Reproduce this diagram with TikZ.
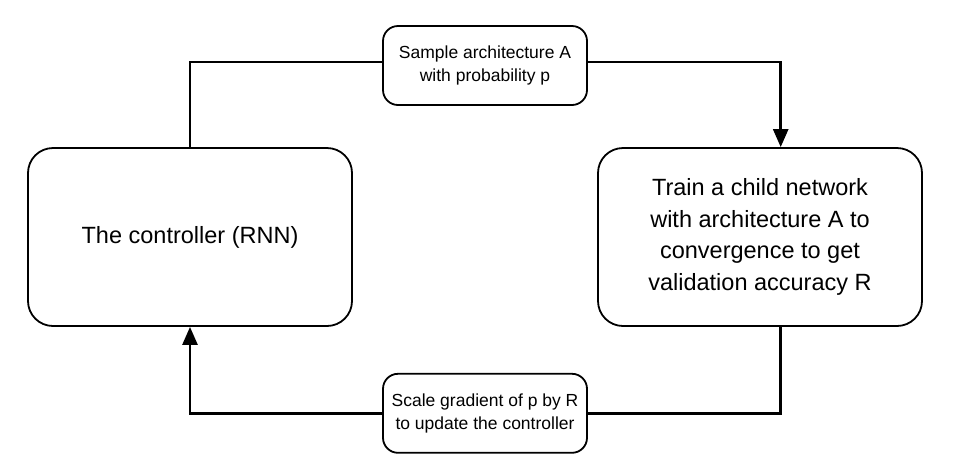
\documentclass[tikz,border=0pt]{standalone}
\usepackage{fontspec}
\setmainfont{Liberation Sans}
\usetikzlibrary{arrows.meta}
\begin{document}
\begin{tikzpicture}[x=1pt,y=-1pt,
  bigbox/.style={draw=black, line width=1.8pt, rounded corners=25pt, align=center,
    minimum width=324pt, minimum height=178pt, inner sep=0pt,
    font=\fontsize{23.5}{31.6}\selectfont},
  labelbox/.style={draw=black, line width=1.8pt, rounded corners=15pt, align=center,
    minimum width=204pt, minimum height=79pt, inner sep=0pt, fill=white,
    font=\fontsize{17.5}{23.4}\selectfont},
  conn/.style={line width=2.6pt},
  arr/.style={conn, -{Triangle[length=18pt,width=15pt]}}
]
\useasboundingbox (0,0) rectangle (958,467);
\node[bigbox] (L) at (190,237) {The controller (RNN)};
\node[bigbox] (R) at (760,237) {Train a child network\\with architecture A to\\convergence to get\\validation accuracy R};
\node[labelbox] (T) at (485,65.5) {Sample architecture A\\with probability p};
\node[labelbox] (B) at (485,413.3) {Scale gradient of p by R\\to update the controller};
\draw[conn] (L.north) |- ([yshift=3.5pt]T.west);
\draw[arr] ([yshift=3.5pt]T.east) -| ([xshift=20.7pt]R.north);
\draw[conn] ([xshift=20.7pt]R.south) |- (B.east);
\draw[arr] (B.west) -| (L.south);
\end{tikzpicture}
\end{document}
